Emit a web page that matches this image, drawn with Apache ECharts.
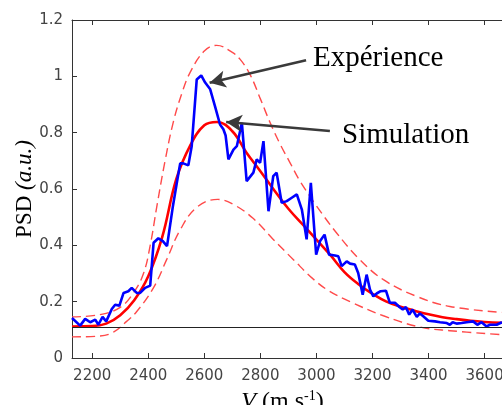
<!DOCTYPE html>
<html>
<head>
<meta charset="utf-8">
<script src="https://cdn.jsdelivr.net/npm/echarts@6/dist/echarts.min.js"></script>
<style>html,body{margin:0;padding:0;background:#fff;}#c{width:502px;height:405px;}</style>
</head>
<body>
<div id="c"></div>
<script>
// Experimental PSD (blue)
const expV = [2128,2157,2175,2193,2211,2222,2237,2250,2270,2282,2297,2312,2329,2341,2359,2371,2389,2407,2419,2436,2452,2467,2488,2502,2514,2525,2543,2555,2573,2589,2603,2621,2638,2656,2668,2676,2686,2704,2716,2734,2751,2775,2787,2799,2811,2829,2846,2858,2876,2894,2912,2930,2948,2965,2980,2999,3013,3029,3045,3066,3078,3090,3108,3120,3137,3149,3165,3179,3191,3203,3215,3229,3248,3262,3280,3296,3308,3319,3331,3343,3358,3369,3381,3399,3423,3441,3465,3476,3486,3500,3518,3536,3559,3574,3589,3607,3619,3643,3662];
const expPSD = [0.142,0.115,0.139,0.127,0.136,0.118,0.146,0.130,0.174,0.189,0.186,0.231,0.237,0.249,0.231,0.231,0.249,0.257,0.409,0.425,0.415,0.397,0.539,0.622,0.691,0.691,0.684,0.752,0.989,1.003,0.978,0.954,0.894,0.829,0.812,0.790,0.705,0.740,0.752,0.835,0.628,0.658,0.705,0.693,0.770,0.521,0.646,0.658,0.551,0.557,0.569,0.581,0.527,0.421,0.622,0.367,0.415,0.438,0.367,0.364,0.361,0.326,0.343,0.335,0.332,0.302,0.225,0.296,0.243,0.219,0.229,0.237,0.239,0.196,0.196,0.181,0.172,0.181,0.154,0.172,0.146,0.158,0.148,0.132,0.130,0.127,0.124,0.118,0.127,0.122,0.124,0.127,0.130,0.118,0.127,0.112,0.118,0.118,0.127];

// Simulation (red solid)
const simV = [2128,2200,2250,2300,2350,2400,2450,2500,2550,2600,2645,2700,2750,2800,2850,2900,2950,3000,3050,3100,3150,3200,3250,3300,3350,3400,3450,3500,3550,3600,3662];
const simPSD = [0.112,0.113,0.122,0.152,0.205,0.290,0.430,0.635,0.755,0.826,0.838,0.805,0.730,0.663,0.595,0.530,0.475,0.420,0.365,0.305,0.262,0.228,0.200,0.182,0.168,0.155,0.145,0.138,0.132,0.128,0.125];

// Upper bound (red dashed)
const upV = [2128,2228,2300,2347,2383,2407,2431,2460,2490,2520,2549,2600,2644,2700,2728,2763,2800,2835,2870,2906,2940,2977,3000,3072,3155,3239,3357,3476,3662];
const upPSD = [0.146,0.154,0.180,0.231,0.300,0.400,0.540,0.700,0.840,0.940,1.013,1.090,1.110,1.085,1.060,1.007,0.920,0.835,0.760,0.693,0.630,0.574,0.540,0.444,0.349,0.278,0.219,0.183,0.162];

// Lower bound (red dashed)
const lowV = [2128,2228,2276,2323,2359,2419,2466,2514,2573,2648,2704,2775,2846,2918,2989,3042,3120,3239,3369,3476,3662];
const lowPSD = [0.075,0.078,0.092,0.130,0.165,0.250,0.350,0.455,0.535,0.563,0.545,0.495,0.421,0.349,0.280,0.240,0.200,0.150,0.110,0.097,0.083];

const baseline = 0.11;
const xTicks = [2200,2400,2600,2800,3000,3200,3400,3600];
const yTicks = [0,0.2,0.4,0.6,0.8,1,1.2];
const labelExp = 'Expérience';
const labelSim = 'Simulation';
// arrows: [start, tip] in data coordinates
const arrowExp = [[2963,1.057],[2619,0.977]];
const arrowSim = [[3048,0.806],[2678,0.838]];

const zip = (a,b) => a.map((v,i)=>[v,b[i]]);
const chart = echarts.init(document.getElementById('c'), null, {renderer:'canvas'});
const axisColor = '#333';
const labelColor = '#444';
const dashColor = '#ff4a4a';

chart.setOption({
  animation:false,
  grid:{left:72, right:0, top:20, bottom:47, containLabel:false, outerBoundsMode:'none'},
  xAxis:[{
    type:'value', min:2128, max:3662, position:'bottom',
    axisLine:{show:true, onZero:false, lineStyle:{color:axisColor, width:1}},
    axisTick:{show:true, inside:true, length:5, customValues:xTicks, lineStyle:{color:axisColor}},
    axisLabel:{show:true, customValues:xTicks, formatter:v=>String(v), color:labelColor, fontSize:15, fontFamily:'DejaVu Sans', margin:11},
    splitLine:{show:false},
    name:'{it|V}{rm|\u00a0(m.s}{sup|-1}{rm|)}',
    nameLocation:'middle', nameGap:31, nameMoveOverlap:false,
    nameTextStyle:{padding:[0,9,0,0], rich:{
      it:{fontFamily:'Liberation Serif', fontStyle:'italic', fontSize:24, color:'#000'},
      rm:{fontFamily:'Liberation Serif', fontSize:24, color:'#000'},
      sup:{fontFamily:'Liberation Serif', fontSize:14, color:'#000', verticalAlign:'top', padding:[0,0,12,0]}
    }}
  },{
    type:'value', min:2128, max:3662, position:'top',
    axisLine:{show:true, onZero:false, lineStyle:{color:axisColor, width:1}},
    axisTick:{show:true, inside:true, length:5, customValues:xTicks, lineStyle:{color:axisColor}},
    axisLabel:{show:false},
    splitLine:{show:false}
  }],
  yAxis:{
    type:'value', min:0, max:1.2, interval:0.2,
    axisLine:{show:true, onZero:false, lineStyle:{color:axisColor, width:1}},
    axisTick:{show:true, inside:true, length:5, lineStyle:{color:axisColor}},
    axisLabel:{color:labelColor, fontSize:15, fontFamily:'DejaVu Sans', margin:9},
    splitLine:{show:false},
    name:'{rm|PSD\u00a0}{it|(a.u.)}',
    nameLocation:'middle', nameGap:36, nameRotate:90, nameMoveOverlap:false,
    nameTextStyle:{rich:{
      rm:{fontFamily:'Liberation Serif', fontSize:23, color:'#000'},
      it:{fontFamily:'Liberation Serif', fontStyle:'italic', fontSize:23, color:'#000'}
    }}
  },
  series:[
    {type:'line', name:'base', data:[], z:1, silent:true,
     markLine:{silent:true, symbol:['none','none'], label:{show:false},
       lineStyle:{color:'#222', width:1.2, type:'solid'},
       data:[{yAxis:baseline}]}},
    {type:'line', name:'upper', data:zip(upV,upPSD), smooth:0.4, showSymbol:false, z:2,
     lineStyle:{color:dashColor, width:1.4, type:[9,5]}},
    {type:'line', name:'lower', data:zip(lowV,lowPSD), smooth:0.4, showSymbol:false, z:2,
     lineStyle:{color:dashColor, width:1.4, type:[9,5]}},
    {type:'line', name:'sim', data:zip(simV,simPSD), smooth:0.4, showSymbol:false, z:3,
     lineStyle:{color:'#ff0000', width:2.6}},
    {type:'line', name:'exp', data:zip(expV,expPSD), smooth:false, showSymbol:false, z:4,
     lineStyle:{color:'#0000ff', width:2.6}},
    {type:'line', name:'arrows', data:[], z:5, silent:true,
     markLine:{silent:true, symbol:['none','arrow'], symbolSize:[13,16], label:{show:false},
       lineStyle:{color:'#3a3a3a', width:2.6, type:'solid'},
       data:[
         [{coord:arrowExp[0]},{coord:arrowExp[1]}],
         [{coord:arrowSim[0]},{coord:arrowSim[1]}]
       ]}}
  ],
  graphic:[
    {type:'text', x:313, y:58, style:{text:labelExp, font:'29px "Liberation Serif"', fill:'#000', verticalAlign:'middle', align:'left'}},
    {type:'text', x:342, y:135, style:{text:labelSim, font:'29px "Liberation Serif"', fill:'#000', verticalAlign:'middle', align:'left'}}
  ]
});
</script>
</body>
</html>
